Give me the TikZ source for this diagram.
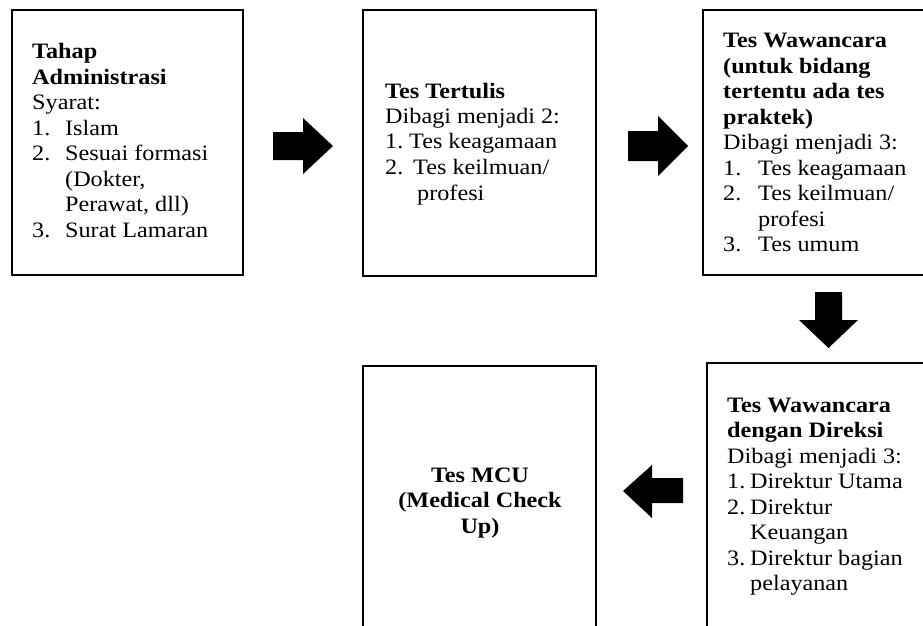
\documentclass[tikz,border=0pt]{standalone}
\usepackage{fontspec}
\setmainfont[FakeStretch=1.1]{Liberation Serif}
\newcommand\numlab[2]{\makebox[#1][l]{#2}}
\tikzset{
  boxnode/.style={draw=black, line width=2pt, rectangle, inner sep=0pt},
  txt/.style={anchor=base west, inner sep=0pt, font=\fontsize{22}{25.5}\selectfont},
  blockarrow/.style={fill=black}
}
\begin{document}
\begin{tikzpicture}[x=1pt,y=-1pt]
\clip (0,0) rectangle (923,626);
\fill[white] (0,0) rectangle (923,626);
% boxes
\node[boxnode, minimum width=231pt, minimum height=265pt] (b1) at (127.5,142.5) {};
\node[boxnode, minimum width=233pt, minimum height=266pt] (b2) at (479.5,143) {};
\node[boxnode, minimum width=232pt, minimum height=265pt] (b3) at (819,142.5) {};
\node[boxnode, minimum width=233pt, minimum height=274pt] (b4) at (479.5,503) {};
\node[boxnode, minimum width=233pt, minimum height=277pt] (b5) at (823.5,501.5) {};
% texts
\node[txt] (t1) at (32,59) {\parbox[t]{215pt}{\raggedright
\textbf{Tahap}\\
\textbf{Administrasi}\\
Syarat:\\
\numlab{33pt}{1.}Islam\\
\numlab{33pt}{2.}Sesuai formasi\\
\hspace*{33pt}(Dokter,\\
\hspace*{33pt}Perawat, dll)\\
\numlab{33pt}{3.}Surat Lamaran}};
\node[txt] (t2) at (385,98) {\parbox[t]{215pt}{\raggedright
\textbf{Tes Tertulis}\\
Dibagi menjadi 2:\\
\numlab{24pt}{1.}Tes keagamaan\\
\numlab{28pt}{2.}Tes keilmuan/\\
\hspace*{32pt}profesi}};
\node[txt] (t3) at (723,48) {\parbox[t]{215pt}{\raggedright
\textbf{Tes Wawancara}\\
\textbf{(untuk bidang}\\
\textbf{tertentu ada tes}\\
\textbf{praktek)}\\
Dibagi menjadi 3:\\
\numlab{35pt}{1.}Tes keagamaan\\
\numlab{35pt}{2.}Tes keilmuan/\\
\hspace*{35pt}profesi\\
\numlab{35pt}{3.}Tes umum}};
\node[txt] (t5) at (727,412) {\parbox[t]{215pt}{\raggedright
\textbf{Tes Wawancara}\\
\textbf{dengan Direksi}\\
Dibagi menjadi 3:\\
\numlab{23pt}{1.}Direktur Utama\\
\numlab{23pt}{2.}Direktur\\
\hspace*{23pt}Keuangan\\
\numlab{23pt}{3.}Direktur bagian\\
\hspace*{23pt}pelayanan}};
\node[txt, anchor=base] (t4) at (480,482) {\parbox[t]{215pt}{\centering\bfseries
Tes MCU\\
(Medical Check\\
Up)}};
% block arrows
\fill[blockarrow] (273,132) -- (303,132) -- (303,118) -- (333,146) -- (303,174) -- (303,160) -- (273,160) -- cycle;
\fill[blockarrow] (628,131) -- (658,131) -- (658,116) -- (688,146) -- (658,176) -- (658,161) -- (628,161) -- cycle;
\fill[blockarrow] (815,292) -- (842,292) -- (842,320) -- (858,320) -- (828.5,348) -- (799,320) -- (815,320) -- cycle;
\fill[blockarrow] (683,478) -- (652,478) -- (652,465) -- (623,491) -- (652,518) -- (652,503) -- (683,503) -- cycle;
\end{tikzpicture}
\end{document}
